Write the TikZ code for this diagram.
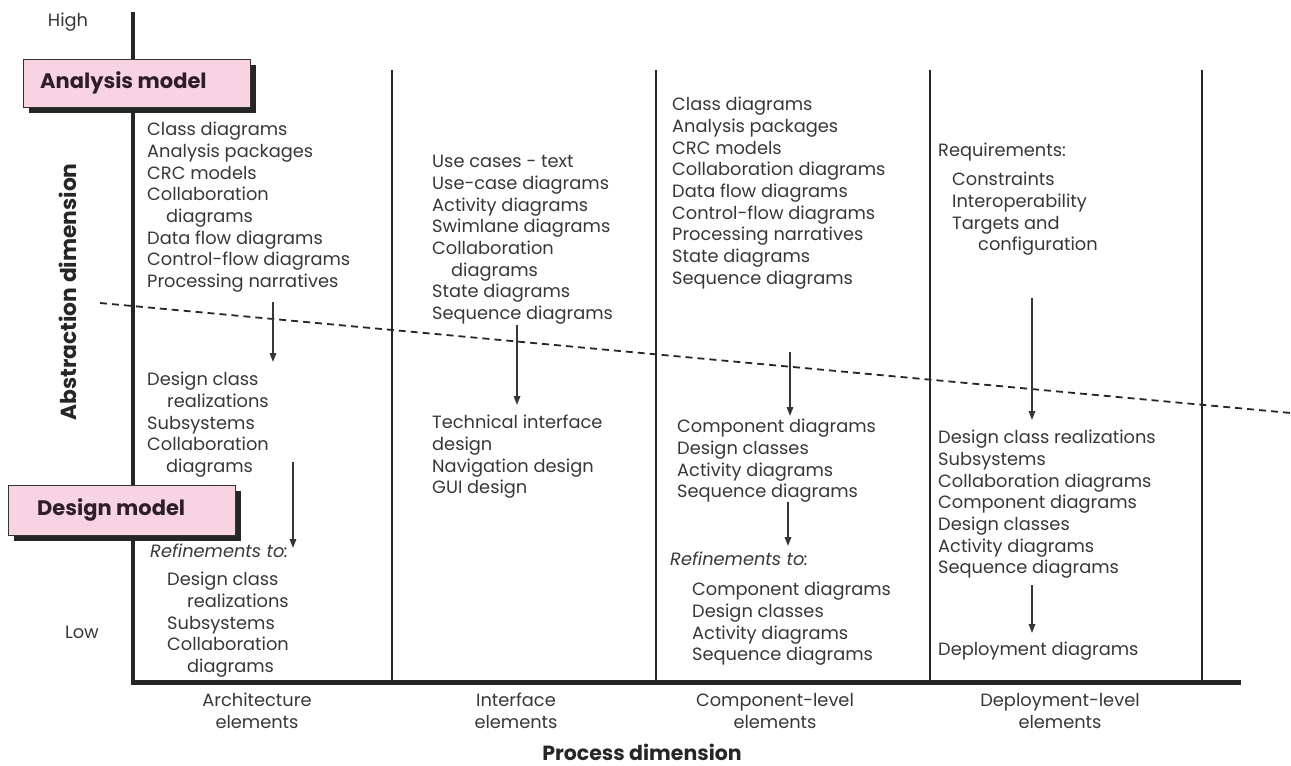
\documentclass[tikz,border=0pt]{standalone}
\usepackage{fontspec}
\setmainfont{Poppins}
\usetikzlibrary{arrows.meta,shadows}
\definecolor{txt}{RGB}{55,55,55}
\definecolor{boxtxt}{RGB}{45,30,40}
\definecolor{pinkfill}{RGB}{248,212,226}
\newcommand\bodyfont{\fontsize{17.8}{21.7}\selectfont}
\begin{document}
\begin{tikzpicture}[x=1pt,y=-1pt,
  blk/.style={anchor=north west, align=left, inner sep=0pt, font=\bodyfont, text=txt},
  lbl/.style={align=center, inner sep=0pt, font=\bodyfont, text=txt},
  arr/.style={draw=txt, line width=1.6pt, -{Triangle[length=9pt,width=6.5pt]}},
  axis/.style={line width=4pt, black!85},
  sep/.style={line width=2.6pt, black!85},
  mbox/.style={draw=black!80, line width=1.2pt, fill=pinkfill, anchor=north west, inner sep=0pt,
     drop shadow={shadow xshift=5pt, shadow yshift=-5pt, fill=black!85, opacity=1}},
  boxlabel/.style={anchor=west, inner sep=0pt, font=\bfseries\fontsize{21}{24}\selectfont, text=boxtxt},
  bigbold/.style={inner sep=0pt, font=\bfseries\fontsize{20.5}{24}\selectfont, text=black!85}
]
\useasboundingbox (0,0) rectangle (1291,766);

% axes and separators
\draw[axis] (133,12) -- (133,684);
\draw[axis, line width=5pt] (131,682) -- (1241,682);
\foreach \xx/\nm in {392/s1,656/s2,930/s3,1202/s4}{
  \coordinate (\nm top) at (\xx,70);
  \coordinate (\nm bot) at (\xx,682);
  \draw[sep] (\nm top) -- (\nm bot);
}

% dashed boundary
\coordinate (dl) at (100,303);
\coordinate (dr) at (1291,413);
\draw[line width=1.8pt, black!85, dash pattern=on 7pt off 5pt] (dl) -- (dr);

% axis labels
\node[lbl] (high) at (68,22) {High};
\node[lbl] (low) at (82,632) {Low};
\node[bigbold, rotate=90, font=\bfseries\fontsize{21.8}{24}\selectfont] (abs) at (68,292) {Abstraction dimension};
\node[bigbold] (proc) at (642,752) {Process dimension};

% model boxes
\node[mbox, minimum width=227pt, minimum height=48pt] (ambox) at (23,59) {};
\node[boxlabel] (am) at (40,83) {Analysis model};
\node[mbox, minimum width=227pt, minimum height=50pt] (dmbox) at (8,485) {};
\node[boxlabel] (dm) at (37,510) {Design model};

% architecture column
\node[blk] (a1) at (147,122) {Class diagrams\\Analysis packages\\CRC models\\Collaboration\\\hspace*{19pt}diagrams\\Data flow diagrams\\Control-flow diagrams\\Processing narratives};
\node[blk] (a2) at (147,372) {Design class\\\hspace*{20pt}realizations\\Subsystems\\Collaboration\\\hspace*{19pt}diagrams};
\node[blk, font=\bodyfont\itshape] (a3) at (150,544) {Refinements to:};
\node[blk] (a4) at (167,572) {Design class\\\hspace*{20pt}realizations\\Subsystems\\Collaboration\\\hspace*{20pt}diagrams};
\coordinate (a1s) at (273,302); \coordinate (a1e) at (273,362);
\coordinate (a2s) at (293,462); \coordinate (a2e) at (293,548);
\draw[arr] (a1s) -- (a1e);
\draw[arr] (a2s) -- (a2e);

% interface column
\node[blk] (i1) at (432,155) {Use cases - text\\Use-case diagrams\\Activity diagrams\\Swimlane diagrams\\Collaboration\\\hspace*{19pt}diagrams\\State diagrams\\Sequence diagrams};
\node[blk] (i2) at (432,415) {Technical interface\\design\\Navigation design\\GUI design};
\coordinate (i1s) at (517,325); \coordinate (i1e) at (517,405);
\draw[arr] (i1s) -- (i1e);

% component column
\node[blk] (c1) at (672,97) {Class diagrams\\Analysis packages\\CRC models\\Collaboration diagrams\\Data flow diagrams\\Control-flow diagrams\\Processing narratives\\State diagrams\\Sequence diagrams};
\node[blk] (c2) at (677,419) {Component diagrams\\Design classes\\Activity diagrams\\Sequence diagrams};
\node[blk, font=\bodyfont\itshape] (c3) at (670,552) {Refinements to:};
\node[blk] (c4) at (692,582) {Component diagrams\\Design classes\\Activity diagrams\\Sequence diagrams};
\coordinate (c1s) at (790,352); \coordinate (c1e) at (790,416);
\coordinate (c2s) at (788,502); \coordinate (c2e) at (788,546);
\draw[arr] (c1s) -- (c1e);
\draw[arr] (c2s) -- (c2e);

% deployment column
\node[blk] (d0) at (938,143) {Requirements:};
\node[blk] (d1) at (952,172) {Constraints\\Interoperability\\Targets and\\\hspace*{26pt}configuration};
\node[blk] (d2) at (938,430) {Design class realizations\\Subsystems\\Collaboration diagrams\\Component diagrams\\Design classes\\Activity diagrams\\Sequence diagrams};
\node[blk] (d3) at (938,642) {Deployment diagrams};
\coordinate (d1s) at (1032,298); \coordinate (d1e) at (1032,420);
\coordinate (d2s) at (1032,585); \coordinate (d2e) at (1032,633);
\draw[arr] (d1s) -- (d1e);
\draw[arr] (d2s) -- (d2e);

% column labels
\node[lbl] (xa) at (257,711) {Architecture\\elements};
\node[lbl] (xi) at (516,711) {Interface\\elements};
\node[lbl] (xc) at (775,711) {Component-level\\elements};
\node[lbl] (xd) at (1060,711) {Deployment-level\\elements};
\end{tikzpicture}
\end{document}
